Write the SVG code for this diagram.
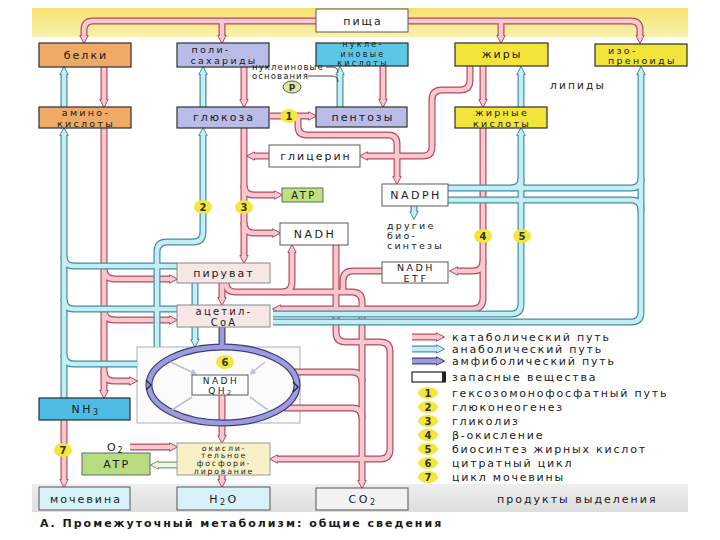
<svg xmlns="http://www.w3.org/2000/svg" xmlns:xlink="http://www.w3.org/1999/xlink" width="720" height="540" viewBox="0 0 720 540">
<style>
.bx{stroke:#2e2e2e;stroke-width:1.2}
.wb{fill:#fff;stroke:#5a5a5a;stroke-width:1}
.t{font-family:"DejaVu Sans","Liberation Sans",sans-serif;font-size:11px;letter-spacing:2px;fill:#1a1a1a;text-anchor:middle}
.tl{font-family:"DejaVu Sans","Liberation Sans",sans-serif;font-size:11px;letter-spacing:1.8px;fill:#1a1a1a;text-anchor:start}
.t2{font-size:9.5px;letter-spacing:2.3px}
.la{letter-spacing:2.5px}
.ko{fill:none;stroke:#b24a62;stroke-width:7}
.ki{fill:none;stroke:#f7c8ce;stroke-width:4.6}
.ao{fill:none;stroke:#3f8f9f;stroke-width:7}
.ai{fill:none;stroke:#c6ecf4;stroke-width:4.6}
.po{fill:none;stroke:#3c3c86;stroke-width:7}
.pi{fill:none;stroke:#9c9cd8;stroke-width:4.6}
.go{fill:none;stroke:#7f9a66;stroke-width:7}
.gi{fill:none;stroke:#eef6e2;stroke-width:4.6}
.nc{fill:#f3e63c}
.nt{font-family:"DejaVu Sans","Liberation Sans",sans-serif;font-size:10px;font-weight:bold;fill:#333;text-anchor:middle}
.pale{fill:none;stroke:#b9c0d6;stroke-width:1.6}
</style>
<defs>
<linearGradient id="yb" x1="0" y1="0" x2="0" y2="1"><stop offset="0" stop-color="#f3e26e"/><stop offset="1" stop-color="#faf1ae"/></linearGradient>
<linearGradient id="gb" x1="0" y1="0" x2="0" y2="1"><stop offset="0" stop-color="#eeeeee"/><stop offset="1" stop-color="#dddddd"/></linearGradient>
<marker id="mk" markerUnits="userSpaceOnUse" markerWidth="10" markerHeight="10" refX="1" refY="5" orient="auto-start-reverse"><path d="M0.5,0.8 L8.5,5 L0.5,9.2 Z" fill="#f7c8ce" stroke="#b24a62" stroke-width="1"/></marker>
<marker id="mn" markerUnits="userSpaceOnUse" markerWidth="10" markerHeight="10" refX="1" refY="5" orient="auto"><path d="M0.5,0.8 L8.5,5 L0.5,9.2 Z" fill="#c6ecf4" stroke="#3f8f9f" stroke-width="1"/></marker>
<marker id="mp" markerUnits="userSpaceOnUse" markerWidth="10" markerHeight="10" refX="1" refY="5" orient="auto"><path d="M0.5,0.8 L8.5,5 L0.5,9.2 Z" fill="#9c9cd8" stroke="#3c3c86" stroke-width="1"/></marker>
<marker id="mg" markerUnits="userSpaceOnUse" markerWidth="10" markerHeight="10" refX="1" refY="5" orient="auto"><path d="M0.5,0.8 L8.5,5 L0.5,9.2 Z" fill="#eef6e2" stroke="#7f9a66" stroke-width="1"/></marker>
<marker id="ms" markerUnits="userSpaceOnUse" markerWidth="8" markerHeight="8" refX="1" refY="4" orient="auto"><path d="M0.5,0.8 L6.5,4 L0.5,7.2 Z" fill="#b9c0d6"/></marker>
<path id="k1" d="M84,36 V30 Q84,21 93,21 H631 Q640,21 640,30 V36"/>
<path id="k2" d="M222,21 V36"/>
<path id="k3" d="M501,21 V36"/>
<path id="k4" d="M104,67 V100"/>
<path id="k5" d="M104,128 V391"/>
<path id="k6" d="M104,268 Q104,279 115,279 H170"/>
<path id="k7" d="M104,310 Q104,320 115,320 H170"/>
<path id="k8" d="M104,371 Q104,381 114,381 H130"/>
<path id="k9" d="M64,420 V480"/>
<path id="k10" d="M244,67 V100"/>
<path id="k11" d="M244,128 V256"/>
<path id="k12" d="M244,185 Q244,195 254,195 H275"/>
<path id="k13" d="M244,222 Q244,233 254,233 H273"/>
<path id="k14" d="M269,156 H254"/>
<path id="k15" d="M270,116 H309"/>
<path id="k16" d="M298,118 V126 Q298,135 307,135 H388 Q397,135 397,144 V177"/>
<path id="k17" d="M383,66 V100"/>
<path id="k18" d="M470,66 V80 Q470,90 460,90 H442 Q432,90 432,100 V147 Q432,156 423,156 H367"/>
<path id="k19" d="M483,66 V100"/>
<path id="k20" d="M483,128 V298 Q483,309 472,309 H280"/>
<path id="k21" d="M483,261 Q483,271 473,271 H457"/>
<path id="k22" d="M222,283 V298"/>
<path id="k23" d="M226,283 Q226,292 236,292 H352 Q362,292 362,302 V481"/>
<path id="k24" d="M282,292 Q292,292 292,282 V252"/>
<path id="k25" d="M336,245 V332 Q336,342 346,342 H380 Q390,342 390,352 V449 Q390,459 380,459 H277"/>
<path id="k26" d="M382,271 H353 Q343,271 343,281 V292"/>
<path id="k27" d="M293,372 H352 Q362,372 362,382"/>
<path id="k28" d="M284,408 H352 Q362,408 362,418"/>
<path id="k29" d="M222,395 V436"/>
<path id="k30" d="M222,475 V480"/>
<path id="k31" d="M130,447 H170"/>
<path id="n1" d="M64,107 V74"/>
<path id="n2" d="M64,398 V135"/>
<path id="n3" d="M177,266 H74 Q64,266 64,256"/>
<path id="n4" d="M177,309 H74 Q64,309 64,299"/>
<path id="n5" d="M137,364 H74 Q64,364 64,354"/>
<path id="n6" d="M203,107 V74"/>
<path id="n7" d="M157,347 V252 Q157,242 167,242 H193 Q203,242 203,232 V135"/>
<path id="n8" d="M195,283 V340"/>
<path id="n9" d="M340,107 V74"/>
<path id="n10" d="M414,206 V212"/>
<path id="n11" d="M273,314 H511 Q521,314 521,304 V135"/>
<path id="n12" d="M521,107 V74"/>
<path id="n13" d="M273,322 H631 Q641,322 641,312 V74"/>
<path id="n14" d="M448,188 H631 Q641,188 641,178"/>
<path id="n15" d="M511,188 Q521,188 521,178"/>
<path id="n16" d="M448,200 H631 Q641,200 641,210"/>
</defs>

<rect x="0" y="0" width="720" height="540" fill="#fff"/>
<g id="background">
<rect x="32" y="8" width="656" height="29" fill="url(#yb)"/>
<rect x="32" y="484" width="656" height="28" fill="url(#gb)"/>
<rect id="cycle-area" x="137" y="347" width="163" height="76" fill="#fbfbfb" stroke="#b0b0b0" stroke-width="1"/>
</g>

<g id="connectors">
<g id="catabolic-outer">
<use href="#k1" class="ko" marker-start="url(#mk)" marker-end="url(#mk)"/>
<use href="#k2" class="ko" marker-end="url(#mk)"/>
<use href="#k3" class="ko" marker-end="url(#mk)"/>
<use href="#k4" class="ko" marker-end="url(#mk)"/>
<use href="#k5" class="ko" marker-end="url(#mk)"/>
<use href="#k6" class="ko" marker-end="url(#mk)"/>
<use href="#k7" class="ko" marker-end="url(#mk)"/>
<use href="#k8" class="ko" marker-end="url(#mk)"/>
<use href="#k9" class="ko" marker-end="url(#mk)"/>
<use href="#k10" class="ko" marker-end="url(#mk)"/>
<use href="#k11" class="ko" marker-end="url(#mk)"/>
<use href="#k12" class="ko" marker-end="url(#mk)"/>
<use href="#k13" class="ko" marker-end="url(#mk)"/>
<use href="#k14" class="ko" marker-end="url(#mk)"/>
<use href="#k15" class="ko" marker-end="url(#mk)"/>
<use href="#k16" class="ko" marker-end="url(#mk)"/>
<use href="#k17" class="ko" marker-end="url(#mk)"/>
<use href="#k18" class="ko" marker-end="url(#mk)"/>
<use href="#k19" class="ko" marker-end="url(#mk)"/>
<use href="#k20" class="ko" marker-end="url(#mk)"/>
<use href="#k21" class="ko" marker-end="url(#mk)"/>
<use href="#k22" class="ko" marker-end="url(#mk)"/>
<use href="#k23" class="ko" marker-end="url(#mk)"/>
<use href="#k24" class="ko" marker-end="url(#mk)"/>
<use href="#k25" class="ko" marker-end="url(#mk)"/>
<use href="#k26" class="ko"/>
<use href="#k27" class="ko"/>
<use href="#k28" class="ko"/>
<use href="#k29" class="ko" marker-end="url(#mk)"/>
<use href="#k30" class="ko" marker-end="url(#mk)"/>
<use href="#k31" class="ko" marker-end="url(#mk)"/>
</g>
<g id="catabolic-inner">
<use href="#k1" class="ki"/><use href="#k2" class="ki"/><use href="#k3" class="ki"/><use href="#k4" class="ki"/>
<use href="#k5" class="ki"/><use href="#k6" class="ki"/><use href="#k7" class="ki"/><use href="#k8" class="ki"/>
<use href="#k9" class="ki"/><use href="#k10" class="ki"/><use href="#k11" class="ki"/><use href="#k12" class="ki"/>
<use href="#k13" class="ki"/><use href="#k14" class="ki"/><use href="#k15" class="ki"/><use href="#k16" class="ki"/>
<use href="#k17" class="ki"/><use href="#k18" class="ki"/><use href="#k19" class="ki"/><use href="#k20" class="ki"/>
<use href="#k21" class="ki"/><use href="#k22" class="ki"/><use href="#k23" class="ki"/><use href="#k24" class="ki"/>
<use href="#k25" class="ki"/><use href="#k26" class="ki"/><use href="#k27" class="ki"/><use href="#k28" class="ki"/>
<use href="#k29" class="ki"/><use href="#k30" class="ki"/><use href="#k31" class="ki"/>
</g>
<g id="anabolic-outer">
<use href="#n1" class="ao" marker-end="url(#mn)"/>
<use href="#n2" class="ao" marker-end="url(#mn)"/>
<use href="#n3" class="ao"/>
<use href="#n4" class="ao"/>
<use href="#n5" class="ao"/>
<use href="#n6" class="ao" marker-end="url(#mn)"/>
<use href="#n7" class="ao" marker-end="url(#mn)"/>
<use href="#n8" class="ao" marker-end="url(#mn)"/>
<use href="#n9" class="ao" marker-end="url(#mn)"/>
<use href="#n10" class="ao" marker-end="url(#mn)"/>
<use href="#n11" class="ao" marker-end="url(#mn)"/>
<use href="#n12" class="ao" marker-end="url(#mn)"/>
<use href="#n13" class="ao" marker-end="url(#mn)"/>
<use href="#n14" class="ao"/>
<use href="#n15" class="ao"/>
<use href="#n16" class="ao"/>
</g>
<g id="anabolic-inner">
<use href="#n1" class="ai"/><use href="#n2" class="ai"/><use href="#n3" class="ai"/><use href="#n4" class="ai"/>
<use href="#n5" class="ai"/><use href="#n6" class="ai"/><use href="#n7" class="ai"/><use href="#n8" class="ai"/>
<use href="#n9" class="ai"/><use href="#n10" class="ai"/><use href="#n11" class="ai"/><use href="#n12" class="ai"/>
<use href="#n13" class="ai"/><use href="#n14" class="ai"/><use href="#n15" class="ai"/><use href="#n16" class="ai"/>
</g>
<g id="bases-links" fill="none" stroke="#333" stroke-width="0.9">
<path d="M326,67 H332 Q338,67 338,73"/>
<path d="M308,76 H332 Q338,76 338,82"/>
</g>
<g id="amphibolic">
<path class="po" d="M222,327 V347"/>
<ellipse class="po" cx="223" cy="385" rx="74" ry="38"/>
<path class="pi" d="M222,327 V348"/>
<ellipse class="pi" cx="223" cy="385" rx="74" ry="38"/>
<path d="M146,380 L151,385 L146,390 M293,382 L298,387 L293,392" fill="none" stroke="#222" stroke-width="1.2"/>
</g>
<g id="cycle-arrows">
<path class="pale" d="M170,362 L192,372" marker-end="url(#ms)"/>
<path class="pale" d="M265,362 L254,371" marker-end="url(#ms)"/>
<path class="pale" d="M192,397 L172,410"/>
<path class="pale" d="M250,397 L268,410"/>
</g>
<g id="atp-arrow">
<path class="go" d="M177,465 H158" marker-end="url(#mg)"/>
<path class="gi" d="M177,465 H158"/>
</g>
</g>

<g id="nodes">
<g id="n-pischa"><rect class="wb" x="316" y="9" width="92" height="23"/><text class="t" x="363" y="25">пища</text></g>
<g id="n-belki"><rect class="bx" x="39" y="43" width="92" height="24" fill="#eeaa66"/><text class="t" x="86" y="59">белки</text></g>
<g id="n-poly"><rect class="bx" x="177" y="43" width="92" height="24" fill="#b8bce6"/><text class="t t2" x="211" y="53">поли-</text><text class="t t2" x="224" y="64">сахариды</text></g>
<g id="n-nuc"><rect class="bx" x="316" y="43" width="92" height="23" fill="#5cc6e6"/><text class="t" x="363" y="47.3" style="font-size:8px;letter-spacing:2.3px">нукле-</text><text class="t" x="363" y="56.7" style="font-size:8px;letter-spacing:2.3px">иновые</text><text class="t" x="363" y="66" style="font-size:8px;letter-spacing:2.3px">кислоты</text></g>
<g id="n-zhiry"><rect class="bx" x="455" y="43" width="93" height="23" fill="#f2e43a"/><text class="t" x="502" y="58">жиры</text></g>
<g id="n-izo"><rect class="bx" x="595" y="44" width="92" height="22" fill="#f2e43a"/><text class="tl" x="608" y="53.5" style="font-size:9.5px;letter-spacing:2.3px">изо-</text><text class="tl" x="608" y="64" style="font-size:9.5px;letter-spacing:2.3px">преноиды</text></g>
<g id="n-amino"><rect class="bx" x="39" y="107" width="92" height="21" fill="#eeaa66"/><text class="t t2" x="86" y="116">амино-</text><text class="t t2" x="86" y="126.5">кислоты</text></g>
<g id="n-glucose"><rect class="bx" x="177" y="107" width="92" height="21" fill="#b8bce6"/><text class="t" x="224" y="121">глюкоза</text></g>
<g id="n-pentoses"><rect class="bx" x="316" y="107" width="91" height="20" fill="#b8bce6"/><text class="t" x="363" y="121">пентозы</text></g>
<g id="n-fatty"><rect class="bx" x="455" y="107" width="92" height="21" fill="#f2e43a"/><text class="t t2" x="502" y="116">жирные</text><text class="t t2" x="502" y="126.5">кислоты</text></g>
<g id="n-glycerin"><rect class="wb" x="269" y="145" width="91" height="22"/><text class="t" x="316" y="160">глицерин</text></g>
<g id="n-atp1"><rect x="282" y="188" width="41" height="14" fill="#bfe07a" stroke="#667" stroke-width="1"/><text class="t la" x="304" y="199" style="font-size:10px">ATP</text></g>
<g id="n-nadph"><rect class="wb" x="382" y="184" width="66" height="22"/><text class="t la" x="416" y="199">NADPH</text></g>
<g id="n-nadh"><rect class="wb" x="280" y="223" width="68" height="22"/><text class="t la" x="315" y="238">NADH</text></g>
<g id="n-etf"><rect class="wb" x="382" y="262" width="66" height="21"/><text class="t la" x="416" y="271" style="font-size:9.5px">NADH</text><text class="t la" x="416" y="281.5" style="font-size:9.5px">ETF</text></g>
<g id="n-pyruvat"><rect x="177" y="263" width="93" height="20" fill="#f7e6e6" stroke="#888" stroke-width="1"/><text class="t" x="224" y="277">пируват</text></g>
<g id="n-acetyl"><rect x="177" y="305" width="93" height="22" fill="#f7e6e6" stroke="#888" stroke-width="1"/><text class="t" x="224" y="314.5" style="font-size:10px;letter-spacing:2.2px">ацетил-</text><text class="t" x="224" y="325.5" style="font-size:10px;letter-spacing:2.2px">CoA</text></g>
<g id="n-nadhqh2"><rect class="wb" x="192" y="375" width="56" height="20"/><text class="t la" x="221" y="383.5" style="font-size:9px">NADH</text><text class="t la" x="221" y="393.5" style="font-size:9px">QH<tspan font-size="6.5" dy="1.5">2</tspan></text></g>
<g id="n-nh3"><rect class="bx" x="39" y="398" width="91" height="22" fill="#4cbce4"/><text class="t la" x="86" y="413">NH<tspan font-size="8" dy="2">3</tspan></text></g>
<g id="n-atp2"><rect x="82" y="453" width="68" height="22" fill="#b8dc80" stroke="#667" stroke-width="1"/><text class="t la" x="117" y="468">ATP</text></g>
<g id="n-oxphos"><rect x="177" y="443" width="93" height="32" fill="#faf0c8" stroke="#999" stroke-width="1"/>
<text class="t" x="224" y="450.5" style="font-size:7.8px;letter-spacing:1.8px">окисли-</text>
<text class="t" x="224" y="458.3" style="font-size:7.8px;letter-spacing:1.8px">тельное</text>
<text class="t" x="224" y="466.1" style="font-size:7.8px;letter-spacing:1.8px">фосфори-</text>
<text class="t" x="224" y="473.9" style="font-size:7.8px;letter-spacing:1.8px">лирование</text></g>
<g id="n-urea"><rect x="39" y="487" width="91" height="23" fill="#d6f2f8" stroke="#555" stroke-width="1"/><text class="t" x="86" y="503">мочевина</text></g>
<g id="n-h2o"><rect x="177" y="487" width="93" height="23" fill="#d6f2f8" stroke="#555" stroke-width="1"/><text class="t la" x="224" y="503">H<tspan font-size="8" dy="2">2</tspan><tspan dy="-2">O</tspan></text></g>
<g id="n-co2"><rect x="316" y="488" width="92" height="22" fill="#f2f2f2" stroke="#555" stroke-width="1"/><text class="t la" x="363" y="503">CO<tspan font-size="8" dy="2">2</tspan></text></g>
</g>

<g id="numbers">
<g><ellipse class="nc" cx="289" cy="116" rx="9" ry="7"/><text class="nt" x="289" y="119.5">1</text></g>
<g><ellipse class="nc" cx="203" cy="207" rx="9" ry="7"/><text class="nt" x="203" y="210.5">2</text></g>
<g><ellipse class="nc" cx="244" cy="207" rx="9" ry="7"/><text class="nt" x="244" y="210.5">3</text></g>
<g><ellipse class="nc" cx="483" cy="236" rx="9" ry="7"/><text class="nt" x="483" y="239.5">4</text></g>
<g><ellipse class="nc" cx="522" cy="236" rx="9" ry="7"/><text class="nt" x="522" y="239.5">5</text></g>
<g><ellipse class="nc" cx="225" cy="362" rx="9" ry="7"/><text class="nt" x="225" y="365.5">6</text></g>
<g><ellipse class="nc" cx="63" cy="450" rx="9" ry="7"/><text class="nt" x="63" y="453.5">7</text></g>
<g><ellipse cx="292" cy="87" rx="9" ry="6" fill="#e2eaa0" stroke="#555" stroke-width="1"/><text class="nt" x="292" y="90.5" style="font-size:9px">P</text></g>
</g>

<g id="labels">
<text class="tl" x="252" y="69.5" style="font-size:8.5px;letter-spacing:1.1px">нуклеиновые</text>
<text class="tl" x="252" y="78.5" style="font-size:8.5px;letter-spacing:1.1px">основания</text>
<text class="tl" x="550" y="89" style="font-size:10.5px;letter-spacing:2.2px">липиды</text>
<text class="tl" x="387" y="229" style="font-size:9.5px;letter-spacing:2.2px">другие</text>
<text class="tl" x="387" y="239" style="font-size:9.5px;letter-spacing:2.2px">био-</text>
<text class="tl" x="387" y="249" style="font-size:9.5px;letter-spacing:2.2px">синтезы</text>
<text class="tl" x="107" y="451">O<tspan font-size="8" dy="2">2</tspan></text>
<text class="tl" x="497" y="503" style="letter-spacing:2px">продукты выделения</text>
<text class="tl" x="40" y="527" style="font-weight:bold;letter-spacing:2px">А. Промежуточный метаболизм: общие сведения</text>
</g>

<g id="legend">
<path class="ko" d="M412,337 H437" marker-end="url(#mk)"/><path class="ki" d="M412,337 H437"/>
<path class="ao" d="M412,349 H437" marker-end="url(#mn)"/><path class="ai" d="M412,349 H437"/>
<path class="po" d="M412,361 H437" marker-end="url(#mp)"/><path class="pi" d="M412,361 H437"/>
<rect x="412" y="372" width="33" height="10" fill="#fff" stroke="#222" stroke-width="1.2"/>
<rect x="442" y="372" width="4" height="10" fill="#222"/>
<text class="tl" x="452" y="341">катаболический путь</text>
<text class="tl" x="452" y="353">анаболический путь</text>
<text class="tl" x="452" y="365">амфиболический путь</text>
<text class="tl" x="452" y="381">запасные вещества</text>
<ellipse class="nc" cx="428" cy="393" rx="10" ry="6"/><text class="nt" x="428" y="396.5">1</text>
<ellipse class="nc" cx="428" cy="407" rx="10" ry="6"/><text class="nt" x="428" y="410.5">2</text>
<ellipse class="nc" cx="428" cy="421" rx="10" ry="6"/><text class="nt" x="428" y="424.5">3</text>
<ellipse class="nc" cx="428" cy="435" rx="10" ry="6"/><text class="nt" x="428" y="438.5">4</text>
<ellipse class="nc" cx="428" cy="449" rx="10" ry="6"/><text class="nt" x="428" y="452.5">5</text>
<ellipse class="nc" cx="428" cy="463" rx="10" ry="6"/><text class="nt" x="428" y="466.5">6</text>
<ellipse class="nc" cx="428" cy="477" rx="10" ry="6"/><text class="nt" x="428" y="480.5">7</text>
<text class="tl" x="452" y="397">гексозомонофосфатный путь</text>
<text class="tl" x="452" y="411">глюконеогенез</text>
<text class="tl" x="452" y="425">гликолиз</text>
<text class="tl" x="452" y="439">β-окисление</text>
<text class="tl" x="452" y="453">биосинтез жирных кислот</text>
<text class="tl" x="452" y="467">цитратный цикл</text>
<text class="tl" x="452" y="481">цикл мочевины</text>
</g>
</svg>
